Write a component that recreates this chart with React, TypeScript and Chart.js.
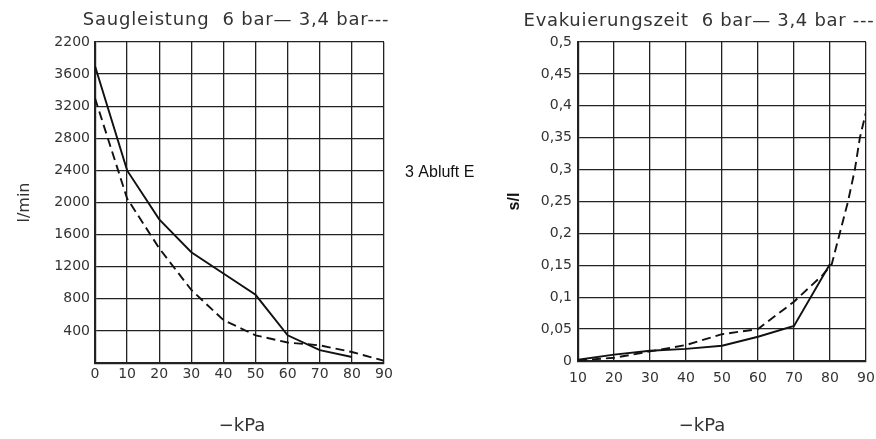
import React, { useEffect, useRef } from "react";
import { Chart, registerables } from "chart.js";

Chart.register(...registerables);

// ---------- data (left chart: Saugleistung) ----------
const leftXTickLabels = ["0", "10", "20", "30", "40", "50", "60", "70", "80", "90"];
const leftYTickLabels = ["", "400", "800", "1200", "1600", "2000", "2400", "2800", "3200", "3600", "2200"];
const suction6Kpa = [0, 10, 20, 30, 40, 50, 60, 70, 80];
const suction6Values = [3700, 2400, 1790, 1380, 1115, 850, 345, 160, 75];
const suction34Kpa = [0, 10, 20, 30, 40, 50, 60, 70, 80, 90];
const suction34Values = [3300, 2050, 1430, 910, 535, 345, 255, 220, 137, 28];

// ---------- data (right chart: Evakuierungszeit) ----------
const rightXTickLabels = ["10", "20", "30", "40", "50", "60", "70", "80", "90"];
const rightYTickLabels = ["0", "0,05", "0,1", "0,15", "0,2", "0,25", "0,3", "0,35", "0,4", "0,45", "0,5"];
const evac6Kpa = [10, 20, 30, 40, 50, 60, 70, 80];
const evac6Values = [0.002, 0.01, 0.016, 0.019, 0.024, 0.038, 0.055, 0.152];
const evac34Kpa = [10, 20, 30, 40, 50, 60, 70, 78, 80.5, 82.7, 85, 86.9, 88.3, 90];
const evac34Values = [0.001, 0.005, 0.015, 0.025, 0.042, 0.05, 0.093, 0.135, 0.152, 0.2, 0.25, 0.3, 0.35, 0.39];

// ---------- texts ----------
const leftTitle = "Saugleistung  6 bar\u2014 3,4 bar---";
const rightTitle = "Evakuierungszeit  6 bar\u2014 3,4 bar ---";
const xAxisTitle = "\u2212kPa";
const leftYAxisTitle = "l/min";
const rightYAxisTitle = "s/l";
const middleNote = "3 Abluft E";

const FONT = "'DejaVu Sans', 'Liberation Sans', sans-serif";
const TEXT = "#333";
const GRID = "#222";

const freeText = {
  id: "freeText",
  afterDraw(chart: any, _args: any, opts: any) {
    const ctx = chart.ctx;
    for (const t of opts.items || []) {
      ctx.save();
      ctx.font = t.font;
      ctx.fillStyle = t.color;
      ctx.textAlign = t.align;
      ctx.textBaseline = "alphabetic";
      if (t.spacing) (ctx as any).letterSpacing = t.spacing;
      ctx.fillText(t.text, t.x, t.y);
      ctx.restore();
    }
  },
};

function toPoints(xs: number[], ys: number[]) {
  return xs.map((x, i) => ({ x, y: ys[i] }));
}

function lineDs(label: string, xs: number[], ys: number[], dashed: boolean) {
  return {
    label,
    data: toPoints(xs, ys),
    borderColor: "#111",
    borderWidth: 1.9,
    borderDash: dashed ? [9, 5] : [],
    pointRadius: 0,
    tension: 0,
    fill: false,
  };
}

function makeConfig(p: any): any {
  return {
    type: "line",
    data: { datasets: p.datasets },
    plugins: [freeText],
    options: {
      animation: false,
      responsive: true,
      maintainAspectRatio: false,
      layout: { padding: p.padding },
      plugins: {
        legend: { display: false },
        tooltip: { enabled: false },
        title: { display: false },
        freeText: { items: p.texts },
      },
      scales: {
        x: {
          type: "linear",
          min: p.xMin,
          max: p.xMax,
          afterFit: (s: any) => {
            s.height = p.xHeight;
          },
          ticks: {
            stepSize: 10,
            autoSkip: false,
            maxRotation: 0,
            padding: p.xTickPad,
            color: TEXT,
            font: { family: FONT, size: 14 },
            callback: (_v: any, i: number) => p.xLabels[i],
          },
          grid: { color: GRID, lineWidth: 1.3, drawTicks: false },
          border: { color: GRID, width: 2.2 },
        },
        y: {
          type: "linear",
          min: p.yMin,
          max: p.yMax,
          afterFit: (s: any) => {
            s.width = p.yWidth;
          },
          ticks: {
            stepSize: p.yStep,
            autoSkip: false,
            padding: p.yTickPad,
            color: TEXT,
            font: { family: FONT, size: 14 },
            callback: (_v: any, i: number) => p.yLabels[i],
          },
          grid: { color: GRID, lineWidth: 1.3, drawTicks: false },
          border: { color: GRID, width: 2.2 },
          title: {
            display: true,
            text: p.yTitle,
            color: p.yTitleColor,
            font: p.yTitleFont,
            padding: { top: p.yTitlePad, bottom: 0 },
          },
        },
      },
    },
  };
}

function useChart(ref: React.RefObject<HTMLCanvasElement>, build: () => any) {
  useEffect(() => {
    if (!ref.current) return;
    const chart = new Chart(ref.current, build());
    return () => chart.destroy();
  }, []);
}

export default function App() {
  const leftRef = useRef<HTMLCanvasElement>(null);
  const rightRef = useRef<HTMLCanvasElement>(null);

  useChart(leftRef, () =>
    makeConfig({
      datasets: [
        lineDs("6 bar", suction6Kpa, suction6Values, false),
        lineDs("3,4 bar", suction34Kpa, suction34Values, true),
      ],
      padding: { left: 0, right: 96, top: 42, bottom: 0 },
      xMin: 0,
      xMax: 90,
      xHeight: 76,
      xTickPad: 3,
      xLabels: leftXTickLabels,
      yMin: 0,
      yMax: 4000,
      yStep: 400,
      yWidth: 95,
      yTickPad: 5,
      yLabels: leftYTickLabels,
      yTitle: leftYAxisTitle,
      yTitleColor: TEXT,
      yTitleFont: { family: FONT, size: 16 },
      yTitlePad: 15,
      texts: [
        { text: leftTitle, x: 236, y: 25, align: "center", font: `18px ${FONT}`, color: TEXT, spacing: "0.8px" },
        { text: xAxisTitle, x: 242, y: 431, align: "center", font: `18px ${FONT}`, color: TEXT },
        { text: middleNote, x: 405, y: 177, align: "left", font: "16px 'Liberation Sans', Arial, sans-serif", color: "#111" },
      ],
    })
  );

  useChart(rightRef, () =>
    makeConfig({
      datasets: [
        lineDs("6 bar", evac6Kpa, evac6Values, false),
        lineDs("3,4 bar", evac34Kpa, evac34Values, true),
      ],
      padding: { left: 0, right: 34, top: 42, bottom: 0 },
      xMin: 10,
      xMax: 90,
      xHeight: 78,
      xTickPad: 9,
      xLabels: rightXTickLabels,
      yMin: 0,
      yMax: 0.5,
      yStep: 0.05,
      yWidth: 98,
      yTickPad: 6,
      yLabels: rightYTickLabels,
      yTitle: rightYAxisTitle,
      yTitleColor: "#111",
      yTitleFont: { family: "'Liberation Sans', Arial, sans-serif", size: 16, weight: "bold" },
      yTitlePad: 25,
      texts: [
        { text: rightTitle, x: 219, y: 26, align: "center", font: `18px ${FONT}`, color: TEXT, spacing: "0.7px" },
        { text: xAxisTitle, x: 222, y: 431, align: "center", font: `18px ${FONT}`, color: TEXT },
      ],
    })
  );

  return (
    <div style={{ position: "absolute", left: 0, top: 0, width: 876, height: 439, overflow: "hidden", background: "#fff" }}>
      <div style={{ position: "absolute", left: 0, top: 0, width: 480, height: 439 }}>
        <canvas ref={leftRef} />
      </div>
      <div style={{ position: "absolute", left: 480, top: 0, width: 420, height: 439 }}>
        <canvas ref={rightRef} />
      </div>
    </div>
  );
}
